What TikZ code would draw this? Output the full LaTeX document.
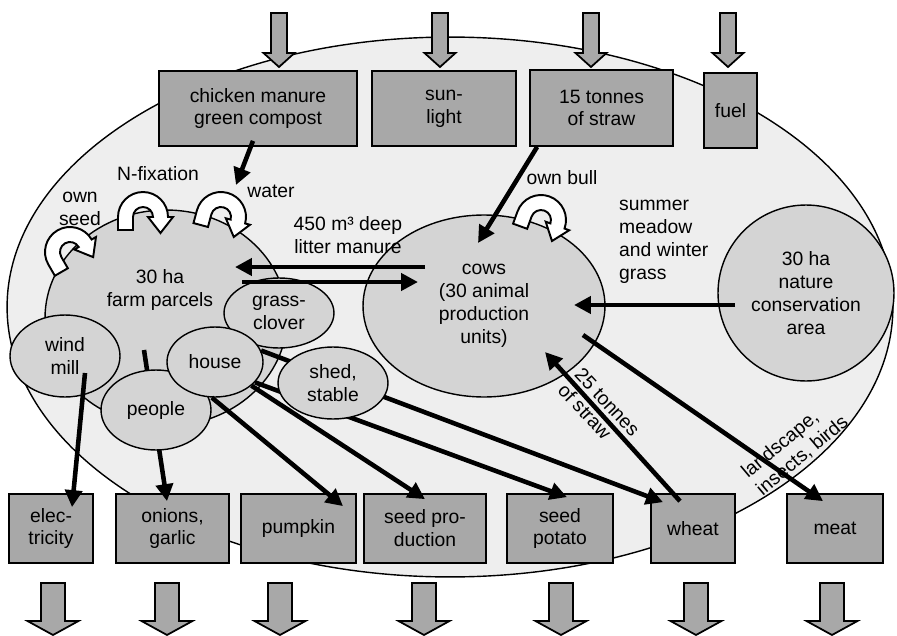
\documentclass[tikz,border=0pt]{standalone}
\usepackage{fontspec}
\setmainfont{Liberation Sans}
\usetikzlibrary{shapes.geometric,arrows.meta}

\definecolor{bggray}{RGB}{238,238,238}
\definecolor{cellgray}{RGB}{212,212,212}
\definecolor{boxgray}{RGB}{168,168,168}

\tikzset{
  box/.style={draw, fill=boxgray, line width=1pt, align=center, inner sep=0pt},
  cell/.style={draw, fill=cellgray, ellipse, line width=0.8pt, align=center, inner sep=0pt},
  flow/.style={line width=2.6pt, -{Triangle[length=0.34cm,width=0.34cm]}},
  bigarrow/.style={draw, fill=boxgray, line width=1pt, line join=miter},
  uturn/.pic={
    \filldraw[fill=white, line width=1.1pt, line join=miter]
      (-25,-13) -- (-25,0) arc[start angle=180, end angle=0, radius=25]
      -- (30,0) -- (17.5,-16) -- (5,0) -- (10,0)
      arc[start angle=0, end angle=180, radius=10] -- (-10,-13) -- cycle;
  }
}

\begin{document}
\begin{tikzpicture}[x=0.02cm, y=0.02cm, font=\fontsize{11}{13}\selectfont]
    \useasboundingbox (0,0) rectangle (897,-636);

    % farm boundary
    \node[cell, fill=bggray, minimum width=17.72cm, minimum height=10.8cm] (farm) at (450,-307) {};

    % inputs
    \node[box, minimum width=3.96cm, minimum height=1.5cm] (chicken) at (258,-108.5) {chicken manure\\green compost};
    \node[box, minimum width=2.88cm, minimum height=1.5cm] (sun) at (444,-108.5) {sun-\\light};
    \node[box, minimum width=2.86cm, minimum height=1.52cm] (straw) at (601.5,-108) {15 tonnes\\of straw};
    \node[box, minimum width=1.06cm, minimum height=1.5cm] (fuel) at (730.5,-110.5) {fuel};

    % outputs
    \node[box, minimum width=1.68cm, minimum height=1.38cm] (elec) at (51,-528.5) {elec-\\tricity};
    \node[box, minimum width=2.26cm, minimum height=1.38cm] (onions) at (172.5,-528.5) {onions,\\garlic};
    \node[box, minimum width=2.3cm, minimum height=1.38cm] (pumpkin) at (298.5,-528.5) {pumpkin};
    \node[box, minimum width=2.44cm, minimum height=1.38cm] (seedprod) at (425,-528.5) {seed pro-\\duction};
    \node[box, minimum width=2.12cm, minimum height=1.38cm] (seedpot) at (560,-528.5) {seed\\potato};
    \node[box, minimum width=1.68cm, minimum height=1.38cm] (wheat) at (693,-528.5) {wheat};
    \node[box, minimum width=1.92cm, minimum height=1.38cm] (meat) at (835,-528.5) {meat};

    \foreach \x in {279,440,591,728}
      \draw[bigarrow] (\x-8,-13) -- (\x+8,-13) -- (\x+8,-53) -- (\x+15.5,-53) -- (\x,-67) -- (\x-15.5,-53) -- (\x-8,-53) -- cycle;
    \foreach \x in {53,167,280,424,561,696,832}
      \draw[bigarrow] (\x-12,-583) -- (\x+12,-583) -- (\x+12,-621) -- (\x+25.5,-621) -- (\x,-635) -- (\x-25.5,-621) -- (\x-12,-621) -- cycle;

    % fields and buildings
    \node[cell, minimum width=4.84cm, minimum height=4.32cm] (parcels) at (166,-318) {};
    \node[align=center] (parceltext) at (160,-290) {30 ha\\farm parcels};
    \draw[flow] ([shift={(-22,-32)}]parcels.center) -- ([shift={(-5.5,-8)}]onions.north);
    \node[cell, minimum width=2.2cm, minimum height=1.6cm] (people) at (156,-410) {people};
    \node[cell, minimum width=2.2cm, minimum height=1.64cm] (windmill) at (65,-356) {wind\\mill};
    \node[cell, minimum width=2.2cm, minimum height=1.4cm] (clover) at (279,-313) {grass-\\clover};
    \node[cell, minimum width=1.92cm, minimum height=1.4cm] (house) at (215,-362) {house};
    \draw[flow] (house.14) -- ([shift={(-30,-9)}]wheat.north);
    \draw[flow] (house.-27) -- ([shift={(7,-4)}]seedpot.north);
    \node[cell, minimum width=2.2cm, minimum height=1.44cm] (shed) at (333,-383) {shed,\\stable};
    \draw[flow] (house.-95) -- ([shift={(44.5,-13)}]pumpkin.north);
    \draw[flow] (house.-33) -- ([shift={(0,-6)}]seedprod.north);
    \draw[flow] ([shift={(20,-17)}]windmill.center) -- ([shift={(21,-14)}]elec.north);

    % animals and nature
    \node[cell, minimum width=4.84cm, minimum height=3.64cm] (cows) at (484,-306) {cows\\(30 animal\\production\\units)};
    \node[cell, minimum width=3.52cm, minimum height=3.52cm] (nature) at (806,-293) {30 ha\\nature\\conservation\\area};

    % internal cycles
    \pic[rotate=30] (seedloop) at (70,-252) {uturn};
    \pic (nfixloop) at (143,-217) {uturn};
    \pic[rotate=-15] (waterloop) at (221,-217) {uturn};
    \pic[rotate=-20] (bullloop) at (541,-220) {uturn};

    % flows
    \coordinate (waterin) at (236,-185);
    \draw[flow] ([shift={(-5,6)}]chicken.south) -- (waterin);
    \draw[flow] ([shift={(8,0)}]straw.south west) -- ([shift={(-6,63)}]cows.center);
    \draw[flow] ([shift={(-59,39)}]cows.center) -- ([shift={(69,51)}]parcels.center);
    \draw[flow] ([shift={(76,36)}]parcels.center) -- ([shift={(-66,24)}]cows.center);
    \draw[flow] ([shift={(-71,-12)}]nature.center) -- ([shift={(90,1)}]cows.center);
    \draw[flow] ([shift={(-13,-8)}]wheat.north) -- ([shift={(61,-46)}]cows.center);
    \draw[flow] ([shift={(99,-29)}]cows.center) -- ([shift={(-12,-8)}]meat.north);

    % labels
    \node (nfixtext) at (158,-174) {N-fixation};
    \node[align=center] (seedtext) at (80,-209) {own\\seed};
    \node (watertext) at (271,-191) {water};
    \node[align=center] (manuretext) at (348,-235) {450 m³ deep\\litter manure};
    \node (bulltext) at (562,-178) {own bull};
    \node[align=left, anchor=west] (grasstext) at (613,-242) {summer\\meadow\\and winter\\grass};
    \node[align=left, rotate=-47] (strawtext) at (599,-410) {25 tonnes\\of straw};
    \node[align=left, rotate=40] (wildtext) at (795,-447) {landscape,\\insects, birds};
\end{tikzpicture}
\end{document}
